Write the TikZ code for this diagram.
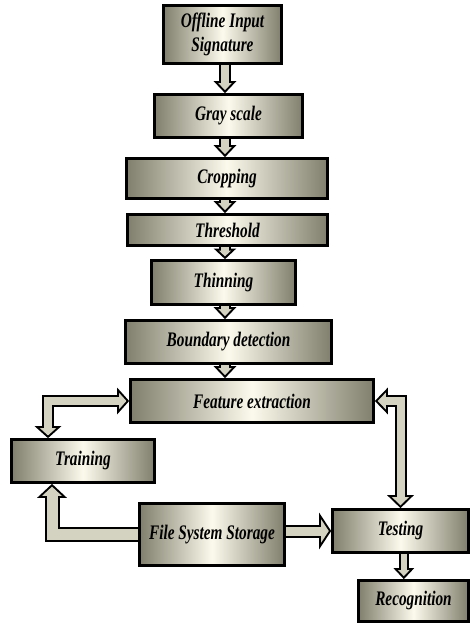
\documentclass[tikz,border=0pt]{standalone}
\usepackage{fontspec}
\usetikzlibrary{arrows.meta,backgrounds}
\newfontfamily\flowfont[FakeStretch=0.74]{Liberation Serif}
\definecolor{boxedge}{RGB}{128,126,108}
\definecolor{boxmid}{RGB}{252,250,236}
\definecolor{arrowfill}{RGB}{212,210,192}

% block arrow: #1 tips, #2 shaft width, #3 head length, #4 head width, #5 path
\newcommand{\fatarrow}[5]{%
  \pgfmathsetmacro\fain{#2-3}%
  \pgfmathsetmacro\faapex{1.5*sqrt((#4/2)^2+(#3)^2)/(#4/2)}%
  \pgfmathsetmacro\falen{#3-\faapex-1.5}%
  \pgfmathsetmacro\fawid{#4*\falen/#3}%
  \def\fatips{#1}\def\faboth{<->}%
  \draw[line width=#2pt, black, line join=miter, >={Triangle[length=#3pt,width=#4pt]}, #1] #5;
  \ifx\fatips\faboth
    \draw[line width=\fain pt, arrowfill, line join=miter, >={Triangle[length=\falen pt,width=\fawid pt]}, shorten >=\faapex pt, shorten <=\faapex pt, #1] #5;
  \else
    \draw[line width=\fain pt, arrowfill, line join=miter, >={Triangle[length=\falen pt,width=\fawid pt]}, shorten >=\faapex pt, #1] #5;
  \fi
}

\begin{document}
\begin{tikzpicture}[x=0.75pt,y=0.75pt,yscale=-1,xscale=1,
  box/.style={draw=black, line width=2pt, left color=boxedge, right color=boxedge, middle color=boxmid,
    align=center, inner sep=1pt, font=\flowfont\bfseries\itshape\fontsize{15.5}{17.5}\selectfont}]
\useasboundingbox (0,0) rectangle (472,625);

% Boxes
\node[box, minimum width=88.5pt, minimum height=43.5pt] (offline) at (222.5,34.5) {Offline Input\\Signature};
\node[box, minimum width=111pt, minimum height=32.25pt] (gray) at (228.5,116) {Gray scale};
\node[box, minimum width=150.75pt, minimum height=30pt] (crop) at (227,178.5) {Cropping};
\node[box, minimum width=150pt, minimum height=23.25pt] (thresh) at (227.5,230) {Threshold};
\node[box, minimum width=108pt, minimum height=33pt] (thin) at (223.5,282.5) {Thinning};
\node[box, minimum width=154.5pt, minimum height=32.25pt] (bound) at (228.5,342) {Boundary detection};
\node[box, minimum width=182.25pt, minimum height=32.25pt] (feat) at (252,401) {Feature extraction};
\node[box, minimum width=107.25pt, minimum height=32.25pt] (train) at (83,461) {Training};
\node[box, minimum width=108.75pt, minimum height=46.5pt] (fss) at (212,534.5) {File System Storage};
\node[box, minimum width=102pt, minimum height=32.25pt] (test) at (400.5,531) {Testing};
\node[box, minimum width=82.5pt, minimum height=30.75pt] (recog) at (413.5,601) {Recognition};

\coordinate (spine) at (225,0);

% Arrows
\begin{scope}[on background layer]
\fatarrow{->}{9}{9}{16.5}{(offline.south -| spine) -- (gray.north -| spine)}
\fatarrow{->}{9}{9}{16.5}{(gray.south -| spine) -- (crop.north -| spine)}
\fatarrow{->}{9}{9}{16.5}{(crop.south -| spine) -- (thresh.north -| spine)}
\fatarrow{->}{9}{8}{16.5}{(thresh.south -| spine) -- (thin.north -| spine)}
\fatarrow{->}{9}{9}{16.5}{(thin.south -| spine) -- (bound.north -| spine)}
\fatarrow{->}{9}{9}{16.5}{(bound.south -| spine) -- (feat.north -| spine)}
\fatarrow{<->}{9}{9}{19.5}{(feat.west) -| ([xshift=-26.25pt]train.north)}
\fatarrow{<->}{9}{9.75}{19.5}{(feat.east) -| (test.north)}
\fatarrow{->}{11.25}{10.5}{21.75}{(fss.west) -| ([xshift=-23.25pt]train.south)}
\fatarrow{->}{9.75}{9}{27}{(fss.east |- test.west) -- (test.west)}
\fatarrow{->}{7.5}{8.25}{15}{([xshift=2.5pt]test.south) -- ([xshift=2.5pt]test.south |- recog.north)}
\end{scope}

\end{tikzpicture}
\end{document}
